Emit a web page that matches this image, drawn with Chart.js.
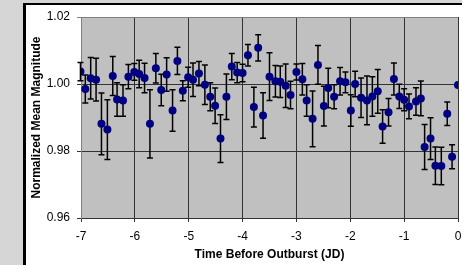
<!DOCTYPE html>
<html>
<head>
<meta charset="utf-8">
<script src="https://cdn.jsdelivr.net/npm/chart.js@4"></script>
<style>
  body { margin: 0; background: #d6d6d6; width: 462px; height: 265px; overflow: hidden; position: relative; }
  #frame { position: absolute; left: 23px; top: 3px; width: 460px; height: 280px; background: #fff;
           border-left: 3px solid #000; border-top: 2px solid #000; }
  #myChart { position: absolute; left: 0; top: 0; }
</style>
</head>
<body>
<div id="frame"></div>
<canvas id="myChart" width="462" height="265"></canvas>
<script>
// time before outburst (JD)
var times = [-7.01, -6.92, -6.82, -6.72, -6.62, -6.51, -6.41, -6.33, -6.22, -6.12,
             -6.01, -5.92, -5.82, -5.72, -5.61, -5.51, -5.41, -5.30, -5.21, -5.11,
             -5.01, -4.92, -4.81, -4.70, -4.60, -4.51, -4.41, -4.30, -4.20, -4.10,
             -4.00, -3.90, -3.79, -3.71, -3.62, -3.50, -3.39, -3.30, -3.20, -3.11,
             -3.00, -2.89, -2.81, -2.70, -2.60, -2.49, -2.41, -2.30, -2.19, -2.09,
             -1.99, -1.91, -1.80, -1.69, -1.59, -1.49, -1.40, -1.29, -1.19, -1.09,
             -1.00, -0.91, -0.78, -0.69, -0.62, -0.51, -0.42, -0.31, -0.20, -0.11,
             0.00];

// normalized mean magnitude
var magnitudes = [1.0037, 0.9985, 1.0017, 1.0013, 0.9881, 0.9864, 1.0024, 0.9954, 0.9951, 1.0022,
                  1.0036, 1.0030, 1.0018, 0.9881, 1.0047, 0.9982, 1.0028, 0.9921, 1.0069, 0.9980,
                  1.0020, 1.0013, 1.0031, 0.9998, 0.9962, 0.9935, 0.9837, 0.9962, 1.0052, 1.0034,
                  1.0033, 1.0086, 0.9931, 1.0108, 0.9906, 1.0022, 1.0008, 1.0007, 0.9995, 0.9967,
                  1.0036, 1.0014, 0.9951, 0.9896, 1.0057, 0.9934, 0.9988, 0.9962, 1.0008, 1.0005,
                  0.9921, 1.0000, 0.9959, 0.9951, 0.9963, 0.9978, 0.9873, 0.9916, 1.0015, 0.9963,
                  0.9953, 0.9933, 0.9948, 0.9957, 0.9812, 0.9837, 0.9756, 0.9755, 0.9911, 0.9783,
                  0.9997];

// +/- error on each point
var errors = [0.0027, 0.0042, 0.0062, 0.0064, 0.0092, 0.0089, 0.0058, 0.0050, 0.0047, 0.0036,
              0.0025, 0.0041, 0.0044, 0.0102, 0.0044, 0.0047, 0.0050, 0.0062, 0.0041, 0.0030,
              0.0030, 0.0050, 0.0036, 0.0059, 0.0042, 0.0053, 0.0071, 0.0068, 0.0039, 0.0030,
              0.0026, 0.0032, 0.0059, 0.0039, 0.0068, 0.0071, 0.0047, 0.0047, 0.0065, 0.0041,
              0.0024, 0.0047, 0.0047, 0.0083, 0.0058, 0.0059, 0.0059, 0.0036, 0.0041, 0.0031,
              0.0047, 0.0038, 0.0059, 0.0073, 0.0059, 0.0065, 0.0050, 0.0041, 0.0048, 0.0036,
              0.0033, 0.0037, 0.0041, 0.0052, 0.0067, 0.0062, 0.0056, 0.0056, 0.0035, 0.0036,
              0];

var xTicks = [-7, -6, -5, -4, -3, -2, -1, 0];
var yTicks = [0.96, 0.98, 1.00, 1.02];

var points = times.map(function (t, i) { return { x: t, y: magnitudes[i] }; });

var font = { family: 'Liberation Sans', size: 12 };
var boldFont = { family: 'Liberation Sans', size: 12, weight: 'bold' };

// grey plot area
var plotBackground = {
    id: 'plotBackground',
    beforeDraw: function (chart) {
        var a = chart.chartArea, c = chart.ctx;
        c.save();
        c.fillStyle = '#c0c0c0';
        c.fillRect(a.left, a.top, a.right - a.left, a.bottom - a.top);
        c.restore();
    }
};

// vertical error bars, drawn under the points
var errorBars = {
    id: 'errorBars',
    beforeDatasetsDraw: function (chart) {
        var c = chart.ctx, xs = chart.scales.x, ys = chart.scales.y;
        c.save();
        c.strokeStyle = '#000';
        c.lineWidth = 1.5;
        times.forEach(function (t, i) {
            if (!errors[i]) return;
            var px = xs.getPixelForValue(t);
            var top = ys.getPixelForValue(magnitudes[i] + errors[i]);
            var bot = ys.getPixelForValue(magnitudes[i] - errors[i]);
            c.beginPath();
            c.moveTo(px, top); c.lineTo(px, bot);
            c.moveTo(px - 3, top); c.lineTo(px + 3, top);
            c.moveTo(px - 3, bot); c.lineTo(px + 3, bot);
            c.stroke();
        });
        c.restore();
    }
};

var ctx = document.getElementById('myChart').getContext('2d');

var myChart = new Chart(ctx, {
    type: 'scatter',
    data: {
        datasets: [{
            data: points,
            pointRadius: 4,
            pointHoverRadius: 4,
            backgroundColor: '#000080',
            borderColor: '#000080',
            borderWidth: 0,
            showLine: false
        }]
    },
    options: {
        responsive: false,
        animation: false,
        layout: { padding: { left: 29.5, top: 17, right: 2.5, bottom: 3 } },
        plugins: {
            legend: { display: false },
            tooltip: { enabled: false }
        },
        scales: {
            x: {
                type: 'linear',
                min: xTicks[0],
                max: xTicks[xTicks.length - 1],
                afterBuildTicks: function (s) { s.ticks = xTicks.map(function (v) { return { value: v }; }); },
                ticks: {
                    color: '#000', font: font, padding: 7, maxRotation: 0,
                    callback: function (v) { return String(v); }
                },
                grid: { color: '#333', tickLength: 4 },
                border: { color: '#333', width: 1 },
                title: { display: true, text: 'Time Before Outburst (JD)', color: '#000', font: boldFont, padding: 0 },
                afterFit: function (s) { s.height = 44; s.paddingLeft = 0; s.paddingRight = 0; }
            },
            y: {
                type: 'linear',
                min: yTicks[0],
                max: yTicks[yTicks.length - 1],
                afterBuildTicks: function (s) { s.ticks = yTicks.map(function (v) { return { value: v }; }); },
                ticks: {
                    color: '#000', font: font, padding: 7,
                    callback: function (v) { return v.toFixed(2); }
                },
                grid: {
                    color: function (c) { return c.tick && c.tick.value === 1.02 ? '#808080' : '#333'; },
                    tickLength: 4
                },
                border: { color: '#808080', width: 1 },
                title: { display: true, text: 'Normalized Mean Magnitude', color: '#000', font: boldFont, padding: 0 },
                afterFit: function (s) { s.width = 51.5; s.paddingTop = 0; s.paddingBottom = 0; }
            }
        }
    },
    plugins: [plotBackground, errorBars]
});
</script>
</body>
</html>
